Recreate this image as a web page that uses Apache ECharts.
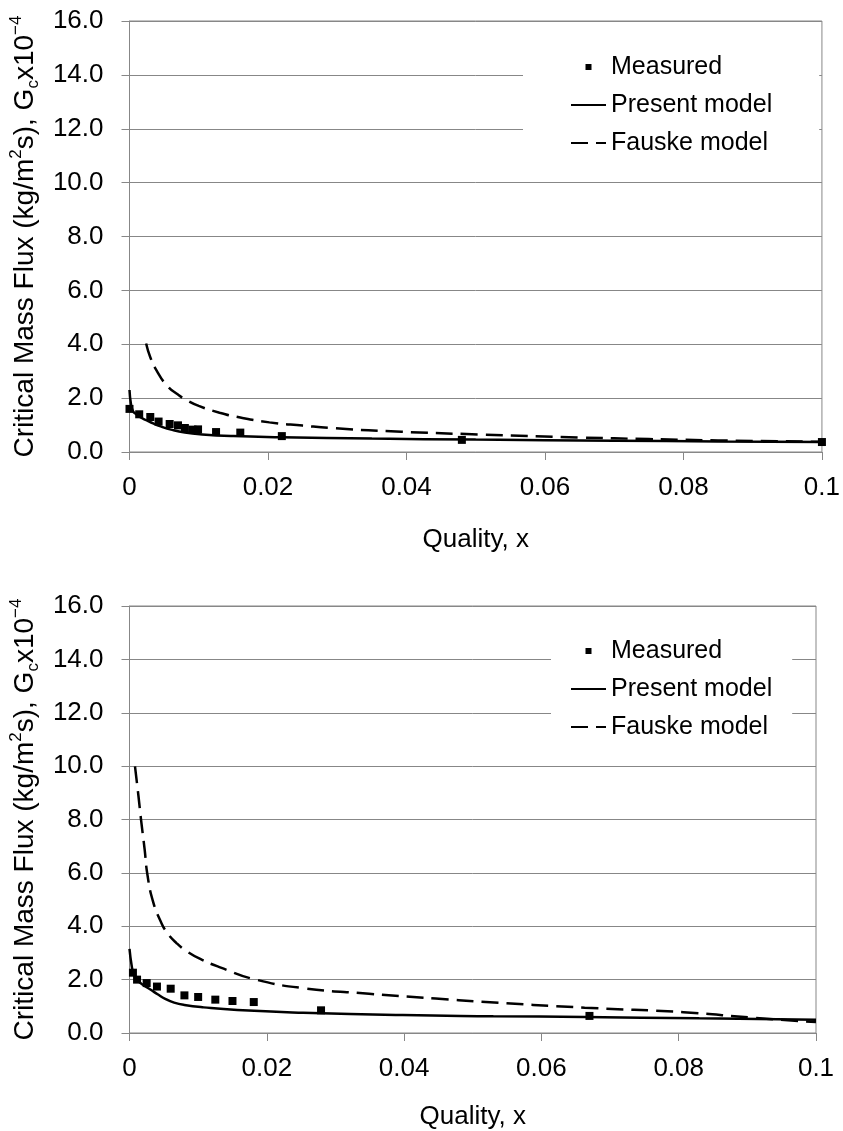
<!DOCTYPE html>
<html>
<head>
<meta charset="utf-8">
<script src="https://cdn.jsdelivr.net/npm/echarts@6/dist/echarts.min.js"></script>
<style>
  html, body { margin: 0; padding: 0; background: #fff; }
  #chart { width: 843px; height: 1131px; }
</style>
</head>
<body>
<div id="chart"></div>
<script>
// Upper panel: critical mass flux vs quality
const measuredX1 = [0, 0.0014, 0.0030, 0.0042, 0.0058, 0.0070, 0.0080, 0.0091, 0.0099, 0.0125, 0.0160, 0.0220, 0.0480, 0.1000];
const measuredG1 = [1.60, 1.40, 1.30, 1.13, 1.04, 0.99, 0.89, 0.83, 0.84, 0.74, 0.72, 0.59, 0.45, 0.37];
const presentX1 = [0, 0.0002, 0.0005, 0.0010, 0.0015, 0.0025, 0.0035, 0.0045, 0.0060, 0.0080, 0.0105, 0.0150, 0.0220, 0.0350, 0.0500, 0.0700, 0.0850, 0.1000];
const presentG1 = [2.30, 1.80, 1.52, 1.40, 1.30, 1.17, 1.05, 0.95, 0.83, 0.72, 0.65, 0.59, 0.55, 0.50, 0.46, 0.42, 0.39, 0.37];
const fauskeX1 = [0.0024, 0.0030, 0.0039, 0.0054, 0.0070, 0.0082, 0.0100, 0.0130, 0.0160, 0.0202, 0.0250, 0.0297, 0.0393, 0.0508, 0.0650, 0.0750, 0.0850, 0.1000];
const fauskeG1 = [4.03, 3.52, 3.03, 2.47, 2.13, 1.93, 1.71, 1.46, 1.28, 1.10, 0.98, 0.88, 0.75, 0.65, 0.54, 0.48, 0.43, 0.38];

// Lower panel
const measuredX2 = [0.0005, 0.0011, 0.0025, 0.0040, 0.0060, 0.0080, 0.0100, 0.0125, 0.0150, 0.0181, 0.0279, 0.0670];
const measuredG2 = [2.26, 2.00, 1.87, 1.74, 1.66, 1.41, 1.35, 1.25, 1.20, 1.16, 0.85, 0.64];
const presentX2 = [0, 0.0003, 0.0006, 0.0012, 0.0020, 0.0031, 0.0041, 0.0052, 0.0065, 0.0080, 0.0108, 0.0157, 0.0253, 0.0398, 0.0530, 0.0663, 0.0830, 0.1000];
const presentG2 = [3.15, 2.55, 2.22, 1.97, 1.80, 1.62, 1.45, 1.28, 1.14, 1.05, 0.96, 0.86, 0.76, 0.67, 0.63, 0.60, 0.55, 0.50];
const fauskeX2 = [0.0008, 0.0013, 0.0017, 0.0022, 0.0026, 0.0034, 0.0046, 0.0055, 0.0068, 0.0084, 0.0105, 0.0133, 0.0181, 0.0253, 0.0349, 0.0446, 0.0513, 0.0663, 0.0807, 0.0904, 0.1000];
const fauskeG2 = [9.99, 8.89, 7.95, 6.89, 5.95, 4.95, 4.15, 3.75, 3.38, 3.05, 2.75, 2.45, 2.02, 1.68, 1.47, 1.29, 1.17, 0.95, 0.78, 0.58, 0.41];

// Axis ticks
const xTicks = { min: 0, max: 0.1, interval: 0.02 };
const yTicks = { min: 0, max: 16, interval: 2 };

const FONT = "'Liberation Sans', Arial, sans-serif";
const GRID_GRAY = '#878787';
const pairs = (xs, ys) => xs.map((x, i) => [x, ys[i]]);

const yName = 'Critical Mass Flux (kg/m{sup|2}s), G{sub|c}x10{sup|\u22124}';

function xAxisFor(gridIndex, nameGap) {
  return {
    gridIndex, type: 'value', min: xTicks.min, max: xTicks.max, interval: xTicks.interval,
    name: 'Quality, x', nameLocation: 'middle', nameGap,
    nameTextStyle: { fontSize: 26, color: '#000', fontFamily: FONT },
    axisLine: { show: true, lineStyle: { color: GRID_GRAY, width: 1 } },
    axisTick: { show: true, length: 8, lineStyle: { color: GRID_GRAY, width: 1 } },
    axisLabel: { fontSize: 26, color: '#000', fontFamily: FONT, margin: 23 },
    splitLine: { show: false }
  };
}

function yAxisFor(gridIndex) {
  return {
    gridIndex, type: 'value', min: yTicks.min, max: yTicks.max, interval: yTicks.interval,
    name: yName, nameLocation: 'middle', nameGap: 77,
    nameTextStyle: {
      fontSize: 28, color: '#000', fontFamily: FONT, lineHeight: 34,
      rich: {
        sup: { fontSize: 17, color: '#000', fontFamily: FONT, verticalAlign: 'top', lineHeight: 17 },
        sub: { fontSize: 17, color: '#000', fontFamily: FONT, verticalAlign: 'bottom', lineHeight: 17 }
      }
    },
    axisLine: { show: true, lineStyle: { color: GRID_GRAY, width: 1 } },
    axisTick: { show: true, length: 8, lineStyle: { color: GRID_GRAY, width: 1 } },
    axisLabel: { fontSize: 26, color: '#000', fontFamily: FONT, margin: 26, formatter: v => v.toFixed(1) },
    splitLine: { show: true, lineStyle: { color: GRID_GRAY, width: 1 } }
  };
}

function panelSeries(idx, mx, mg, px, pg, fx, fg) {
  return [
    {
      name: 'Measured', type: 'scatter', xAxisIndex: idx, yAxisIndex: idx,
      symbol: 'rect', symbolSize: 8, itemStyle: { color: '#000', opacity: 1 },
      data: pairs(mx, mg), z: 5
    },
    {
      name: 'Present model', type: 'line', xAxisIndex: idx, yAxisIndex: idx,
      symbol: 'none', smooth: 0.5,
      lineStyle: { color: '#000', width: 2.5 }, itemStyle: { color: '#000' },
      data: pairs(px, pg), z: 4
    },
    {
      name: 'Fauske model', type: 'line', xAxisIndex: idx, yAxisIndex: idx,
      symbol: 'none', smooth: 0.5,
      lineStyle: { color: '#000', width: 2.5, type: [17, 8] }, itemStyle: { color: '#000' },
      data: pairs(fx, fg), z: 3
    }
  ];
}

// Legend icons: a small square for the points, bare line segments for the models
const squareIcon = 'path://M0,0 L10,0 L10,10 L0,10 Z';
const hiddenDot = { opacity: 0 };

function legendFor(left, top, padding) {
  return {
    orient: 'vertical', left, top, padding,
    backgroundColor: '#fff', selectedMode: false,
    itemWidth: 35, itemHeight: 6, itemGap: 13, symbolKeepAspect: true,
    data: [
      { name: 'Measured', icon: squareIcon, itemStyle: { color: '#000', opacity: 1 } },
      { name: 'Present model', itemStyle: hiddenDot },
      { name: 'Fauske model', itemStyle: hiddenDot }
    ],
    textStyle: { fontSize: 25, color: '#000', fontFamily: FONT, lineHeight: 25 }
  };
}

const chart = echarts.init(document.getElementById('chart'), null, { renderer: 'canvas' });
chart.setOption({
  backgroundColor: '#fff',
  animation: false,
  grid: [
    { left: 126, top: 21, width: 697, height: 431, show: true, borderColor: GRID_GRAY, borderWidth: 1, backgroundColor: 'transparent' },
    { left: 125, top: 606, width: 691, height: 428, show: true, borderColor: GRID_GRAY, borderWidth: 1, backgroundColor: 'transparent' }
  ],
  xAxis: [xAxisFor(0, 75), xAxisFor(1, 71)],
  yAxis: [yAxisFor(0), yAxisFor(1)],
  legend: [
    legendFor(523, 42.5, [12, 47, 12, 47]),
    legendFor(551, 626.5, [12, 20, 12, 19])
  ],
  series: [
    ...panelSeries(0, measuredX1, measuredG1, presentX1, presentG1, fauskeX1, fauskeG1),
    ...panelSeries(1, measuredX2, measuredG2, presentX2, presentG2, fauskeX2, fauskeG2)
  ]
});
</script>
</body>
</html>
